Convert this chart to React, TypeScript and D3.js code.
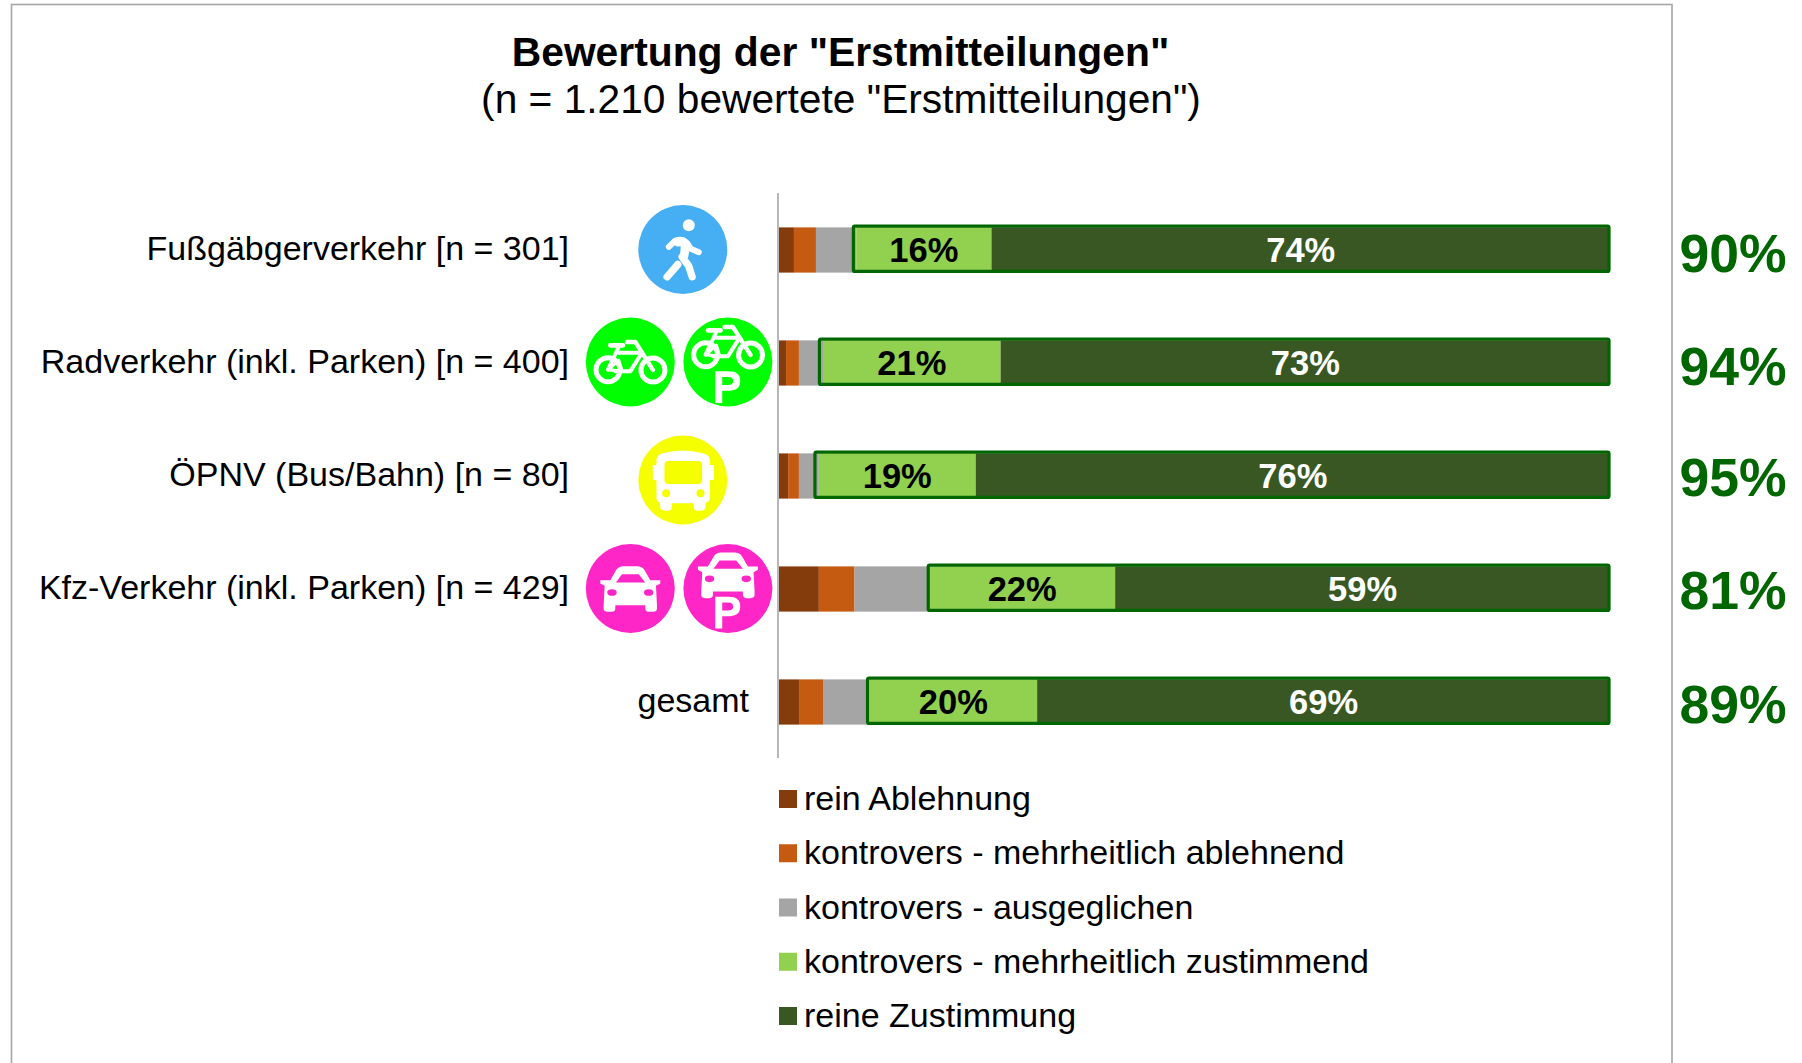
import React from "react";
import * as d3 from "d3";

const categories = ["Fußgäbgerverkehr [n = 301]", "Radverkehr (inkl. Parken) [n = 400]", "ÖPNV (Bus/Bahn) [n = 80]", "Kfz-Verkehr (inkl. Parken) [n = 429]", "gesamt"];
const seriesNames = ["rein Ablehnung", "kontrovers - mehrheitlich ablehnend", "kontrovers - ausgeglichen", "kontrovers - mehrheitlich zustimmend", "reine Zustimmung"];
const seriesColors = ["#843C0C", "#C55A11", "#A5A5A5", "#92D050", "#385723"];
const reinAblehnung = [1.8, 0.85, 1.1, 4.8, 2.5];
const mehrAblehnend = [2.65, 1.55, 1.3, 4.3, 2.8];
const ausgeglichen = [4.85, 2.9, 2.4, 9.0, 5.6];
const mehrZustimmend = [16.3, 21.4, 18.9, 22.4, 20.2];
const reineZustimmung = [74.4, 73.3, 76.3, 59.5, 68.9];
const frameStart = [8.96, 4.87, 4.33, 17.98, 10.67];
const lightLabels = ["16%", "21%", "19%", "22%", "20%"];
const darkLabels = ["74%", "73%", "76%", "59%", "69%"];
const totalLabels = ["90%", "94%", "95%", "81%", "89%"];
const title = 'Bewertung der "Erstmitteilungen"';
const subtitle = '(n = 1.210 bewertete "Erstmitteilungen")';

const FONT = "'Liberation Sans', Arial, sans-serif";
const keys = ["a", "b", "c", "d", "e"];
const rows = categories.map((c, i) => ({
  a: reinAblehnung[i],
  b: mehrAblehnend[i],
  c: ausgeglichen[i],
  d: mehrZustimmend[i],
  e: reineZustimmung[i],
}));
const stack = d3.stack<any>().keys(keys)(rows);

const x = d3.scaleLinear().domain([0, 100]).range([779, 1609]);
const y = d3.scaleBand<string>().domain(categories).range([193, 758]).paddingInner(0.6).paddingOuter(0.3);
const legendY = d3.scalePoint<string>().domain(seriesNames).range([799, 1016]);
const totalNudge = [2.5, 2.5, 0, 0, 1];

const P = ({ cy }: { cy: number }) => (
  <path
    fill="#fff"
    fillRule="evenodd"
    d={`M-38,${cy + 95} V${cy} H3 Q37,${cy} 37,${cy + 29} Q37,${cy + 58} 3,${cy + 58} H-17 V${cy + 95} Z M-17,${cy + 17} V${cy + 41} H0 Q16,${cy + 41} 16,${cy + 29} Q16,${cy + 17} 0,${cy + 17} Z`}
  />
);

const Walker = () => (
  <g fill="none" stroke="#fff" strokeWidth={18} strokeLinecap="round" strokeLinejoin="round">
    <circle cx={18} cy={-73} r={18} fill="#fff" stroke="none" />
    <path strokeWidth={26} d="M-14,-22 L0,-24 Q10,-15 4,18" />
    <path d="M-42,-8 L-22,-27 Q0,-34 14,-18 L24,-2 L48,8" />
    <path strokeWidth={22} d="M-2,22 L18,50 L28,82" />
    <path strokeWidth={22} d="M-15,45 L-47,82" />
  </g>
);

const Bike = ({ dy = 0 }: { dy?: number }) => (
  <g transform={`translate(0,${dy})`} fill="none" stroke="#fff" strokeWidth={12} strokeLinecap="round" strokeLinejoin="round">
    <circle cx={-67} cy={23} r={36} strokeWidth={15} />
    <circle cx={68} cy={24} r={36} strokeWidth={15} />
    <path d="M-67,23 L-35,-45" />
    <path d="M-67,23 L-25,28 L-35,-5 Z" strokeWidth={10} />
    <path d="M-60,-50 H-22" strokeWidth={14} />
    <path d="M-10,-60 H15 L68,24" strokeWidth={13} />
    <path d="M-35,-28 H35 L0,28 H-45" strokeWidth={12} />
  </g>
);

const Car = ({ dy = 0 }: { dy?: number }) => (
  <g transform={`translate(0,${dy})`}>
    <path
      fill="#fff"
      d="M-60,-25 L-42,-56 Q-35,-67 -20,-67 L20,-67 Q35,-67 42,-56 L60,-25 L90,-25 L90,-15 L77,-8 L80,50 L80,60 Q80,70 68,70 L56,70 Q45,70 45,60 L45,50 L-45,50 L-45,60 Q-45,70 -56,70 L-68,70 Q-80,70 -80,60 L-80,50 L-77,-8 L-90,-15 L-90,-25 Z"
    />
    <path d="M-43,-18 L-25,-43 L25,-43 L45,-18 Z" fill="#FF26C8" />
    <ellipse cx={-55} cy={12} rx={14} ry={10} fill="#FF26C8" />
    <ellipse cx={55} cy={12} rx={14} ry={10} fill="#FF26C8" />
  </g>
);

const Bus = () => (
  <g>
    <path
      fill="#fff"
      d="M-79,-60 Q-79,-75 -60,-80 Q0,-97 60,-80 Q81,-75 81,-60 V-45 H93 V0 H81 V55 Q81,65 68,68 V80 Q68,92 52,92 H45 Q33,92 33,80 V70 H-33 V80 Q-33,92 -45,92 H-52 Q-68,92 -68,80 V68 Q-79,65 -79,55 V0 H-90 V-45 H-79 Z"
    />
    <rect x={-55} y={-57} width={113} height={69} rx={12} fill="#F5FF00" />
    <circle cx={-50} cy={40} r={12} fill="#F5FF00" />
    <circle cx={53} cy={40} r={12} fill="#F5FF00" />
  </g>
);

const icons = [
  { cx: 682.8, cy: 249.5, fill: "#46AEF2", el: <Walker /> },
  { cx: 630.3, cy: 362, fill: "#00FF00", el: <Bike /> },
  { cx: 727.9, cy: 362, fill: "#00FF00", el: <g><Bike dy={-45} /><P cy={28} /></g> },
  { cx: 682.8, cy: 480, fill: "#F5FF00", el: <Bus /> },
  { cx: 630.3, cy: 588.5, fill: "#FF26C8", el: <Car /> },
  { cx: 727.9, cy: 588.5, fill: "#FF26C8", el: <g><Car dy={-41} /><P cy={25} /></g> },
];

export default function App() {
  return (
    <svg
      width={1802}
      height={1063}
      viewBox="0 0 1802 1063"
      style={{ position: "absolute", left: 0, top: 0, display: "block", background: "#fff" }}
      fontFamily={FONT}
    >
      <rect x={11.5} y={4.5} width={1660.5} height={1100} fill="#fff" stroke="#A6A6A6" strokeWidth={1.6} />

      <text x={840.5} y={66} textAnchor="middle" fontSize={40.8} fontWeight={700} fill="#000">{title}</text>
      <text x={841} y={113} textAnchor="middle" fontSize={40.7} fill="#000">{subtitle}</text>

      {stack.map((s, si) => (
        <g key={si} fill={seriesColors[si]}>
          {s.map((d, i) => (
            <rect key={i} x={x(d[0])} y={y(categories[i])! + 0.5} width={x(d[1]) - x(d[0])} height={y.bandwidth()} />
          ))}
        </g>
      ))}

      {categories.map((c, i) => (
        <rect
          key={c}
          x={x(frameStart[i])}
          y={y(c)! - 0.7}
          width={x(100) - x(frameStart[i])}
          height={y.bandwidth()}
          rx={1.5}
          fill="none"
          stroke="#006600"
          strokeWidth={3.2}
        />
      ))}

      <line x1={778} x2={778} y1={193} y2={758} stroke="#A6A6A6" strokeWidth={1.6} />

      {categories.map((c, i) => {
        const cy = y(c)! + y.bandwidth() / 2;
        const lightStart = stack[3][i][0], lightEnd = stack[3][i][1];
        const darkEnd = stack[4][i][1];
        return (
          <g key={c}>
            <text x={c === "gesamt" ? 749 : 569} y={cy + 10.5} textAnchor="end" fontSize={34} fill="#000">{c}</text>
            <text x={x((lightStart + lightEnd) / 2)} y={cy + 12.5} textAnchor="middle" fontSize={34.5} fontWeight={700} fill="#000">{lightLabels[i]}</text>
            <text x={x((lightEnd + darkEnd) / 2) + 0.5} y={cy + 12.5} textAnchor="middle" fontSize={34.5} fontWeight={700} fill="#fff">{darkLabels[i]}</text>
            <text x={1733} y={cy + 20 + totalNudge[i]} textAnchor="middle" fontSize={53.5} fontWeight={700} fill="#006600">{totalLabels[i]}</text>
          </g>
        );
      })}

      {icons.map((ic, i) => (
        <g key={i} transform={`translate(${ic.cx},${ic.cy})`}>
          <circle r={44.5} fill={ic.fill} />
          <g transform="scale(0.3333)">{ic.el}</g>
        </g>
      ))}

      {seriesNames.map((n, i) => (
        <g key={n}>
          <rect x={779} y={legendY(n)! - 9} width={18} height={18} fill={seriesColors[i]} />
          <text x={804} y={legendY(n)! + 11} fontSize={34} fill="#000">{n}</text>
        </g>
      ))}
    </svg>
  );
}
